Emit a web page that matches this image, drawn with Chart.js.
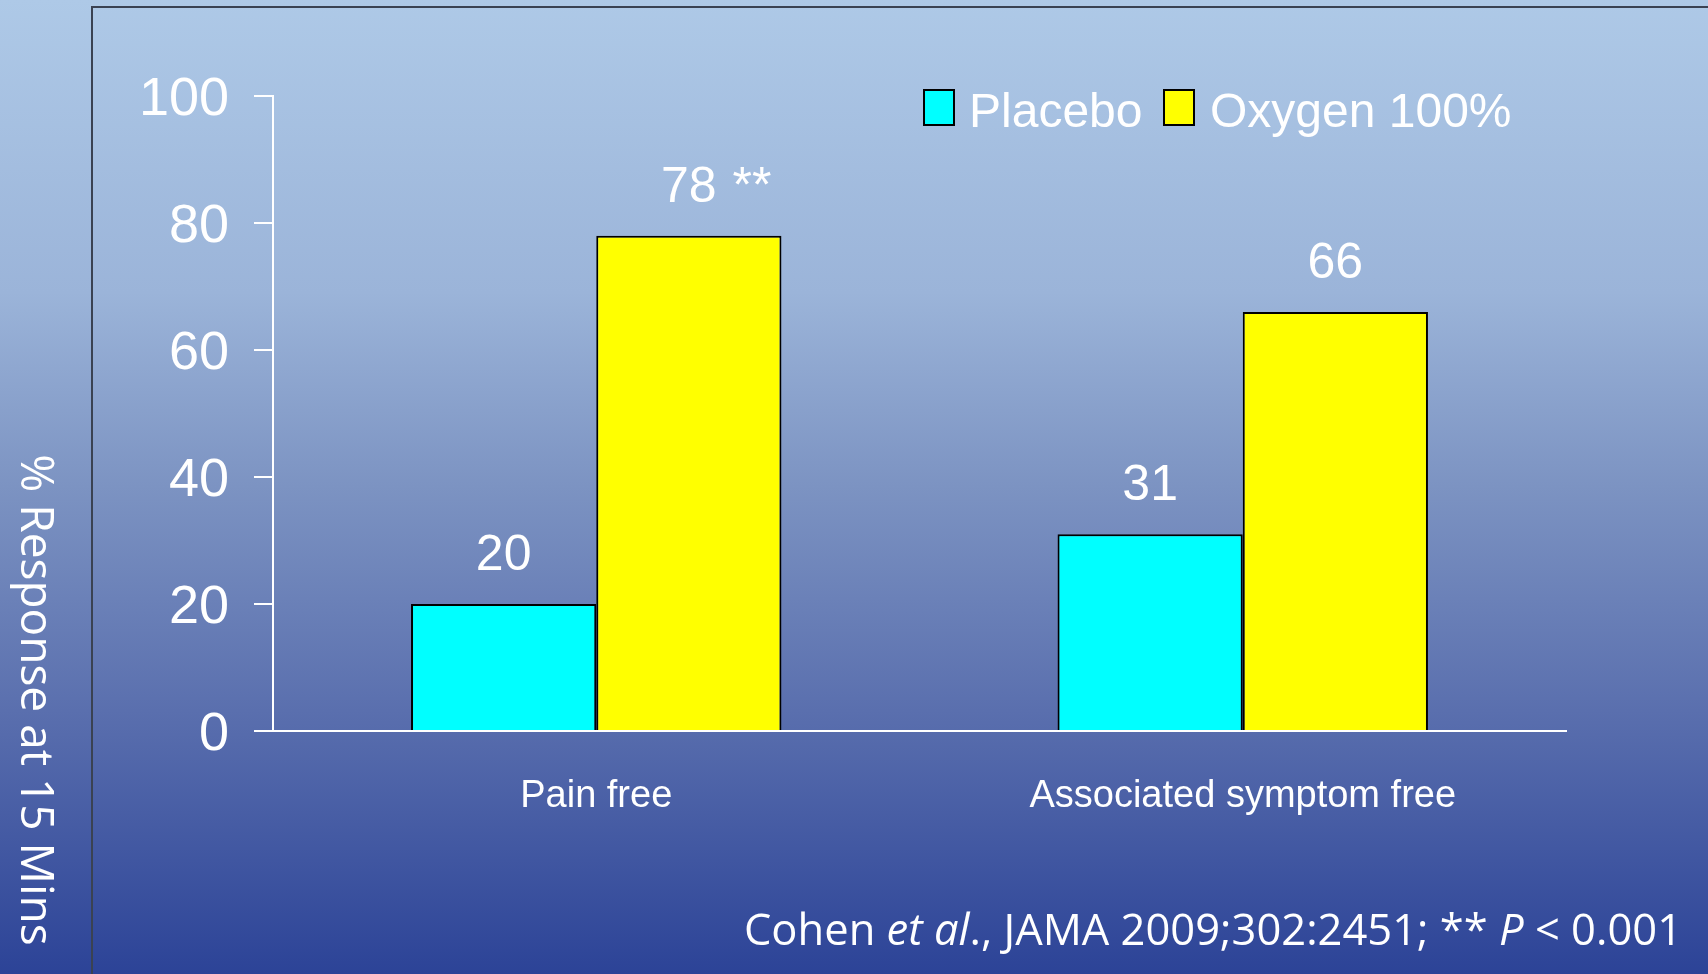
<!DOCTYPE html>
<html>
<head>
<meta charset="utf-8">
<script src="https://cdn.jsdelivr.net/npm/chart.js@4"></script>
<style>
	html, body {
		margin: 0;
		padding: 0;
		width: 1708px;
		height: 974px;
		overflow: hidden;
		background: linear-gradient(to bottom, #aec9e7 0%, #9bb4d9 30%, #7c93c2 50%, #5a6fae 73%, #2c4397 100%);
	}
	#wrap {
		position: absolute;
		left: 0;
		top: 0;
		width: 1708px;
		height: 974px;
	}
</style>
</head>
<body>
<div id="wrap"><canvas id="oxygenChart" width="1708" height="974"></canvas></div>
<script>
// chart values
const categories = ['Pain free', 'Associated symptom free'];
const placebo = [20, 31];
const oxygen = [78, 66];
const oxygenMarks = ['**', ''];
const yTicks = [0, 20, 40, 60, 80, 100];
const yTitle = '% Response at 15 Mins';
const footnote = [
	{ text: 'Cohen ', italic: false },
	{ text: 'et al', italic: true },
	{ text: '., JAMA 2009;302:2451; ** ', italic: false },
	{ text: 'P', italic: true },
	{ text: ' < 0.001', italic: false },
];

const labelFont = "'Liberation Sans', Arial, sans-serif";
const noteFont = "'Open Sans', 'Noto Sans', sans-serif";

// frame, legend, value labels, axis title and footnote
const slideExtras = {
	id: 'slideExtras',
	afterDraw(chart) {
		const ctx = chart.ctx;
		const w = chart.width;
		const h = chart.height;
		ctx.save();

		// frame
		ctx.strokeStyle = '#3a4252';
		ctx.lineWidth = 2;
		ctx.beginPath();
		ctx.moveTo(92, h);
		ctx.lineTo(92, 7);
		ctx.lineTo(w, 7);
		ctx.stroke();

		// legend
		const legendPos = [{ box: 924, text: 969 }, { box: 1164, text: 1210 }];
		ctx.font = '48px ' + labelFont;
		ctx.textBaseline = 'alphabetic';
		ctx.textAlign = 'left';
		chart.data.datasets.forEach((ds, i) => {
			const p = legendPos[i];
			ctx.fillStyle = ds.backgroundColor;
			ctx.fillRect(p.box, 90, 30, 35);
			ctx.strokeStyle = '#000';
			ctx.lineWidth = 2;
			ctx.strokeRect(p.box, 90, 30, 35);
			ctx.fillStyle = '#fff';
			ctx.fillText(ds.label, p.text, 127);
		});

		// value labels above the bars
		ctx.font = '50px ' + labelFont;
		ctx.fillStyle = '#fff';
		chart.data.datasets.forEach((ds, i) => {
			const meta = chart.getDatasetMeta(i);
			meta.data.forEach((bar, j) => {
				const txt = String(ds.data[j]);
				const y = bar.y - 34;
				ctx.textAlign = 'center';
				ctx.fillText(txt, bar.x, y);
				const mark = ds.marks ? ds.marks[j] : '';
				if (mark) {
					ctx.textAlign = 'left';
					const half = ctx.measureText(txt).width / 2;
					ctx.fillText(' ' + mark, bar.x + half + 2, y);
				}
			});
		});

		// y axis title, reading top to bottom
		ctx.save();
		ctx.translate(21, 700);
		ctx.rotate(Math.PI / 2);
		ctx.font = '46px ' + noteFont;
		ctx.textAlign = 'center';
		ctx.textBaseline = 'alphabetic';
		ctx.fillText(yTitle, 0, 0);
		ctx.restore();

		// footnote, right aligned
		let total = 0;
		const parts = footnote.map((part) => {
			const font = (part.italic ? 'italic ' : '') + '43.5px ' + noteFont;
			ctx.font = font;
			const width = ctx.measureText(part.text).width;
			total += width;
			return { font, width, text: part.text };
		});
		let x = 1682 - total;
		ctx.textAlign = 'left';
		parts.forEach((part) => {
			ctx.font = part.font;
			ctx.fillText(part.text, x, 945);
			x += part.width;
		});

		ctx.restore();
	},
};

const ctx = document.getElementById('oxygenChart').getContext('2d');
new Chart(ctx, {
	type: 'bar',
	data: {
		labels: categories,
		datasets: [
			{
				label: 'Placebo',
				data: placebo,
				backgroundColor: '#00ffff',
				borderColor: '#000',
				borderWidth: 2,
			},
			{
				label: 'Oxygen 100%',
				data: oxygen,
				marks: oxygenMarks,
				backgroundColor: '#ffff00',
				borderColor: '#000',
				borderWidth: 2,
			},
		],
	},
	options: {
		responsive: false,
		animation: false,
		devicePixelRatio: 1,
		layout: {
			padding: { top: 96, right: 142, bottom: 0, left: 0 },
		},
		datasets: {
			bar: {
				categoryPercentage: 0.573,
				barPercentage: 1,
			},
		},
		plugins: {
			legend: { display: false },
			tooltip: { enabled: false },
		},
		scales: {
			x: {
				afterFit(scale) {
					scale.height = 243;
				},
				grid: { display: false, drawTicks: false },
				border: { display: true, color: '#ffffff', width: 2 },
				ticks: {
					color: '#fff',
					padding: 43,
					font: { family: labelFont, size: 38 },
				},
			},
			y: {
				min: 0,
				max: 100,
				afterFit(scale) {
					scale.width = 273;
				},
				afterBuildTicks(scale) {
					scale.ticks = yTicks.map((v) => ({ value: v }));
				},
				grid: {
					drawOnChartArea: false,
					drawTicks: true,
					tickLength: 19,
					color: '#ffffff',
					lineWidth: 2,
				},
				border: { display: true, color: '#ffffff', width: 2 },
				ticks: {
					color: '#fff',
					padding: 25,
					labelOffset: 4,
					font: { family: labelFont, size: 54 },
				},
			},
		},
	},
	plugins: [slideExtras],
});
</script>
</body>
</html>
